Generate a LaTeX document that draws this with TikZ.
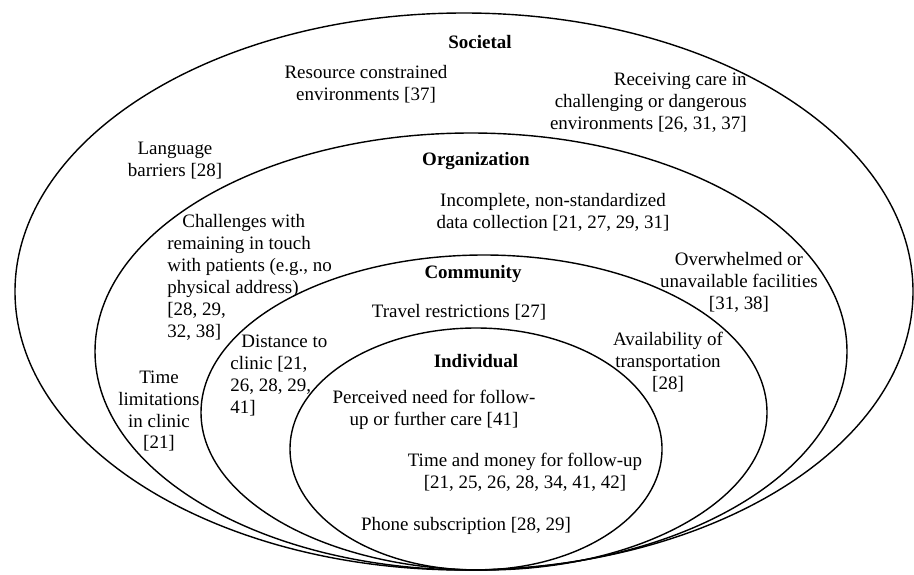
\documentclass[tikz,border=0pt]{standalone}
\usepackage{fontspec}
\setmainfont{Liberation Serif}
\usepackage{tikz}
\usetikzlibrary{positioning}

\tikzset{
  ring/.style={thick, black},
  lbl/.style={inner sep=0pt, align=center, font=\fontsize{10.8}{12.5}\selectfont},
  lvl/.style={lbl, font=\fontsize{10.8}{12.5}\selectfont\bfseries}
}

\begin{document}
\begin{tikzpicture}[scale=1]
\useasboundingbox (0,0) rectangle (18.28,11.48);

% Nested levels
\draw[ring] (9.28,5.65) ellipse [x radius=8.98, y radius=5.57];
\draw[ring] (9.42,4.45) ellipse [x radius=7.52, y radius=4.37];
\draw[ring] (9.68,3.23) ellipse [x radius=5.66, y radius=3.15];
\draw[ring] (9.52,2.50) ellipse [x radius=3.72, y radius=2.42];

% Societal
\node[lvl] (societal) at (9.6,10.64) {Societal};
\node[lbl] (resource) at (7.32,9.8) {Resource constrained\\environments [37]};
\node[lbl, align=right, anchor=east] (receiving) at (14.94,9.42)
    {Receiving care in\\challenging or dangerous\\environments [26, 31, 37]};
\node[lbl] (language) at (3.5,8.26) {Language\\barriers [28]};

% Organization
\node[lvl] (organization) at (9.52,8.26) {Organization};
\node[lbl] (incomplete) at (11.06,7.24) {Incomplete, non-standardized\\data collection [21, 27, 29, 31]};
\node[lbl, align=left, anchor=west] (challenges) at (3.34,5.94)
    {\hspace*{0.3cm}Challenges with\\remaining in touch\\with patients (e.g., no\\physical address)\\{[28, 29,}\\32, 38]};
\node[lbl] (overwhelmed) at (14.78,5.84) {Overwhelmed or\\unavailable facilities\\{[31, 38]}};
\node[lbl] (timelimit) at (3.18,3.26) {Time\\limitations\\in clinic\\{[21]}};

% Community
\node[lvl] (community) at (9.46,6.0) {Community};
\node[lbl] (travel) at (9.18,5.24) {Travel restrictions [27]};
\node[lbl, align=left, anchor=west] (distance) at (4.6,3.97)
    {\hspace*{0.22cm}Distance to\\clinic [21,\\26, 28, 29,\\41]};
\node[lbl] (availability) at (13.36,4.24) {Availability of\\transportation\\{[28]}};

% Individual
\node[lvl] (individual) at (9.52,4.26) {Individual};
\node[lbl] (perceived) at (8.68,3.28) {Perceived need for follow-\\up or further care [41]};
\node[lbl] (timemoney) at (10.5,2.04) {Time and money for follow-up\\{[21, 25, 26, 28, 34, 41, 42]}};
\node[lbl] (phone) at (9.32,0.96) {Phone subscription [28, 29]};
\end{tikzpicture}
\end{document}
